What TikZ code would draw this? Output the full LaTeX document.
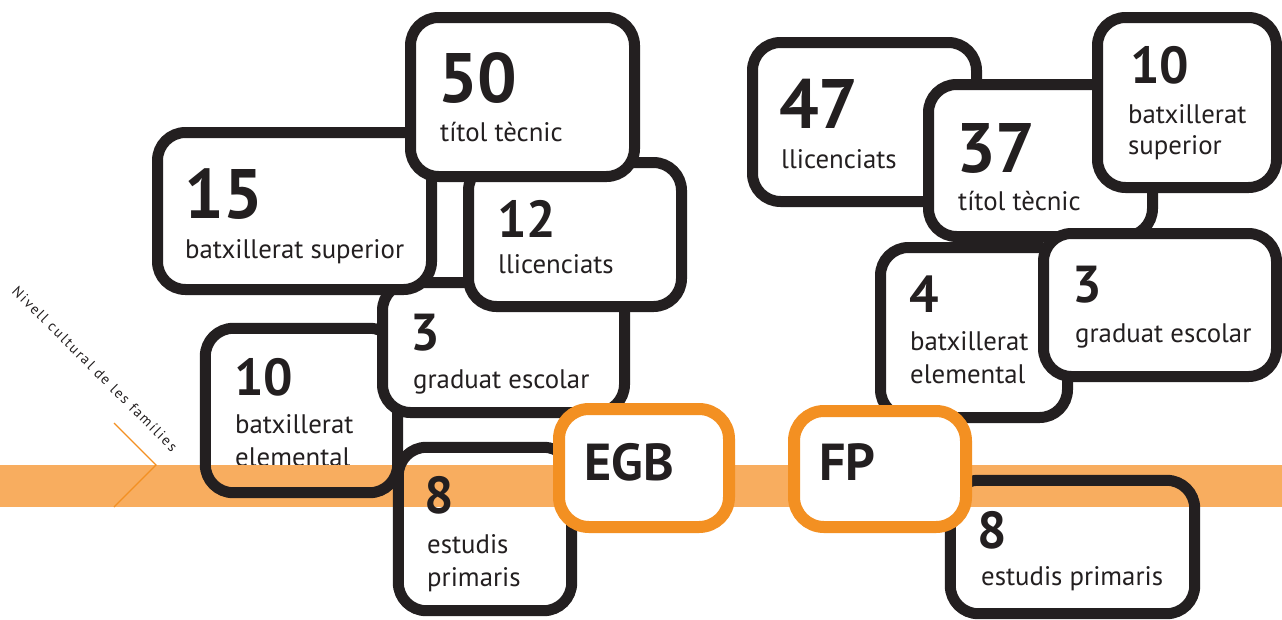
\documentclass[tikz,border=0pt]{standalone}
\usepackage{fontspec}
\setmainfont{PT Sans}
\newfontfamily\trackfont[LetterSpace=12]{PT Sans}
\definecolor{ink}{HTML}{231F20}
\definecolor{orng}{HTML}{F39022}
\definecolor{bandc}{HTML}{F8AD5F}
\begin{document}
\begin{tikzpicture}[x=1pt,y=-1pt,
  boxfill/.style={rectangle, rounded corners=28pt, fill=white, inner sep=0pt},
  boxfull/.style={boxfill, draw=ink, line width=11pt},
  boxstroke/.style={draw=ink, line width=11pt, rounded corners=28pt},
  orbox/.style={rectangle, rounded corners=30pt, fill=white, draw=orng, line width=12pt, inner sep=0pt},
  bignum/.style={anchor=base west, inner sep=0pt, text=ink, font=\fontsize{70}{70}\selectfont\bfseries},
  smallnum/.style={anchor=base west, inner sep=0pt, text=ink, font=\fontsize{52}{52}\selectfont\bfseries},
  lbl/.style={anchor=base west, inner sep=0pt, text=ink, font=\fontsize{26.8}{26.8}\selectfont},
]
\useasboundingbox (0,0) rectangle (1282,619);

% --- boxes under the band ---
\node[boxfill, minimum width=192, minimum height=164] (b10L) at (301.5,410.5) {};
\node[smallnum] (n10L) at (234,395) {10};
\node[lbl] (l10La) at (235,433) {batxillerat};
\node[lbl] (l10Lb) at (235,466) {elemental};
\node[boxfill, minimum width=173, minimum height=163] (b8L) at (485,529) {};
\node[boxfill, minimum width=244, minimum height=133] (b8R) at (1072.5,547) {};

% --- band ---
\fill[bandc] (0,465) rectangle (1282,507);
\coordinate (chA) at (114,423);
\coordinate (chB) at (156,465);
\coordinate (chC) at (114,507);
\draw[orng, line width=1.3pt] (chA) -- (chB) -- (chC);

% --- left cluster ---
\draw[boxstroke] (b10L.north west) rectangle (b10L.south east);
\node[boxfull, minimum width=242, minimum height=130] (b3L) at (503.5,347.5) {};
\node[smallnum] (n3L) at (410,350) {3};
\node[lbl] (l3L) at (413,388) {graduat escolar};

\node[boxfull, minimum width=274, minimum height=157] (b15) at (294.5,211) {};
\node[bignum] (n15) at (184,218) {15};
\node[lbl] (l15) at (185,258) {batxillerat superior};

\node[boxfull, minimum width=213, minimum height=144] (b12) at (575,234.5) {};
\node[smallnum] (n12) at (497,237) {12};
\node[lbl] (l12) at (498,273) {llicenciats};

\node[boxfull, minimum width=224, minimum height=159] (b50) at (522.5,97) {};
\node[bignum] (n50) at (438,102) {50};
\node[lbl] (l50) at (440,141) {títol tècnic};

\draw[boxstroke] (b8L.north west) rectangle (b8L.south east);
\node[smallnum] (n8L) at (424,513) {8};
\node[lbl] (l8La) at (427,553) {estudis};
\node[lbl] (l8Lb) at (427,586) {primaris};

% --- right cluster ---
\node[boxfull, minimum width=224, minimum height=159] (b47) at (864.5,122) {};
\node[bignum] (n47) at (779,128) {47};
\node[lbl] (l47) at (781,168) {llicenciats};

\node[boxfull, minimum width=224, minimum height=152] (b37) at (1040.5,160.5) {};
\node[bignum] (n37) at (956,172) {37};
\node[lbl] (l37) at (958,210) {títol tècnic};

\node[boxfull, minimum width=179, minimum height=170] (b10R) at (1187,102.5) {};
\node[smallnum] (n10R) at (1130,83) {10};
\node[lbl] (l10Ra) at (1128,123) {batxillerat};
\node[lbl] (l10Rb) at (1128,154) {superior};

\node[boxfull, minimum width=187, minimum height=170] (b4) at (974,332.5) {};
\node[smallnum] (n4) at (909,312) {4};
\node[lbl] (l4a) at (910,350) {batxillerat};
\node[lbl] (l4b) at (910,383) {elemental};

\node[boxfull, minimum width=233, minimum height=143] (b3R) at (1160,305) {};
\node[smallnum] (n3R) at (1072,302) {3};
\node[lbl] (l3R) at (1075,342) {graduat escolar};

\draw[boxstroke] (b8R.north west) rectangle (b8R.south east);
\node[smallnum] (n8R) at (977,548) {8};
\node[lbl] (l8R) at (981,585) {estudis primaris};

% --- orange boxes on top ---
\node[orbox, minimum width=170, minimum height=118] (egb) at (644,468) {};
\node[smallnum] (tegb) at (584,480) {EGB};
\node[orbox, minimum width=172, minimum height=116] (fp) at (880,469) {};
\node[smallnum] (tfp) at (819,480) {FP};

% --- axis label ---
\node[rotate=-45, anchor=base west, inner sep=0pt, text=ink, font=\trackfont\fontsize{14.5}{14.5}\selectfont] (axislbl) at (11,292) {Nivell cultural de les famílies};
\end{tikzpicture}
\end{document}
